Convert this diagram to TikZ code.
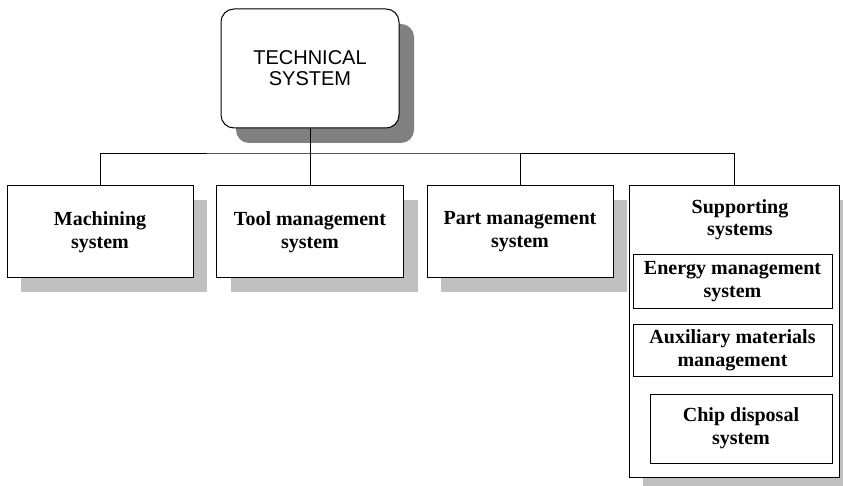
\documentclass[tikz,border=0pt]{standalone}
\usepackage{fontspec}
\usetikzlibrary{shadows}
\newfontfamily\boxfont{Liberation Serif}
\newfontfamily\headfont{Liberation Sans}
\definecolor{shadowdark}{RGB}{128,128,128}
\definecolor{shadowlight}{RGB}{192,192,192}
\tikzset{
  unitbox/.style={draw=black, line width=1pt, fill=white, inner sep=0pt,
    align=center, font=\boxfont\bfseries\fontsize{20}{23}\selectfont},
  shadowed/.style={drop shadow={shadow xshift=14pt, shadow yshift=-14pt,
    fill=shadowlight, opacity=1}},
  headbox/.style={draw=black, line width=1pt, fill=white, inner sep=0pt,
    rounded corners=13pt, align=center,
    font=\headfont\fontsize{20}{21}\selectfont,
    drop shadow={shadow xshift=15pt, shadow yshift=-15pt,
      fill=shadowdark, opacity=1}},
  link/.style={draw=black, line width=0.9pt}
}
\begin{document}
\begin{tikzpicture}[x=1pt,y=-1pt]
  \useasboundingbox (0,0) rectangle (843,486);

  % root of the tree
  \node[headbox, minimum width=178pt, minimum height=119pt] (top) at (310,68.5)
    {TECHNICAL\\SYSTEM};

  % first level
  \node[unitbox, shadowed, minimum width=186pt, minimum height=92pt] (b1) at (100,232)
    {Machining\\system};
  \node[unitbox, shadowed, minimum width=187pt, minimum height=92pt] (b2) at (310,232)
    {Tool management\\system};
  \node[unitbox, shadowed, minimum width=186pt, minimum height=92pt] (b3) at (520,232)
    {Part management\\system};
  \node[unitbox, shadowed, minimum width=210pt, minimum height=291pt] (b4) at (734,331.5) {};

  % contents of the supporting systems column
  \node[font=\boxfont\bfseries\fontsize{20}{22}\selectfont, align=center, inner sep=0pt]
    (suplabel) at (740,220) {Supporting\\systems};
  \node[unitbox, minimum width=199pt, minimum height=53pt] (energy) at (732.5,281.5)
    {Energy management\\system};
  \node[unitbox, minimum width=199pt, minimum height=52pt] (aux) at (732.5,350)
    {Auxiliary materials\\management};
  \node[unitbox, minimum width=182pt, minimum height=69pt] (chip) at (741,428.5)
    {Chip disposal\\system};

  % connectors
  \coordinate (hub) at (310,153);
  \draw[link] (top.south) -- (b2.north);
  \draw[link] (b1.north) |- (hub) -| (b4.north);
  \draw[link] (b3.north) -- (b3.north |- hub);
\end{tikzpicture}
\end{document}
